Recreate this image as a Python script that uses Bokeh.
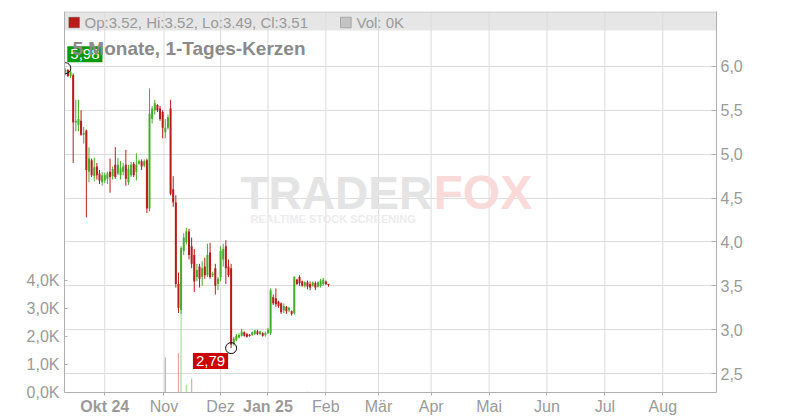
from bokeh.plotting import figure
from bokeh.models import (Range1d, LinearAxis, FixedTicker, CustomJSTickFormatter,
                          Label, BoxAnnotation, ColumnDataSource, Span)
from bokeh.embed import file_html
from bokeh.resources import INLINE

# ---------------- data (trading-day index, prices in EUR, volume in thousands) -------------
day = list(range(101))
open_ = [5.93, 5.96, 5.89, 5.90, 5.36, 5.33, 5.38, 5.22, 5.27, 4.80,
         4.93, 4.75, 4.86, 4.78, 4.68, 4.70, 4.72, 4.80, 4.75, 4.88,
         4.78, 4.76, 4.80, 4.88, 4.68, 4.76, 4.89, 4.80, 4.89, 4.92,
         4.87, 4.93, 4.38, 5.40, 5.50, 5.56, 5.52, 5.48, 5.25, 5.30,
         5.52, 4.60, 4.45, 3.52, 3.22, 3.90, 4.00, 4.12, 3.95, 3.85,
         3.60, 3.72, 3.60, 3.72, 3.62, 3.88, 3.62, 3.70, 3.52, 3.60,
         3.80, 3.95, 3.72, 3.70, 2.84, 2.88, 2.91, 2.93, 2.97, 2.95,
         2.94, 2.94, 2.95, 2.98, 2.95, 2.96, 2.94, 2.96, 2.96, 3.37,
         3.36, 3.32, 3.30, 3.22, 3.26, 3.22, 3.21, 3.19, 3.57, 3.60,
         3.55, 3.50, 3.54, 3.52, 3.50, 3.53, 3.49, 3.50, 3.52, 3.55,
         3.52]
high = [5.98, 5.97, 5.96, 5.92, 5.62, 5.62, 5.50, 5.31, 5.28, 5.08,
        4.95, 4.96, 4.90, 4.82, 4.80, 4.79, 4.80, 4.95, 4.86, 5.08,
        4.96, 4.92, 4.90, 5.05, 4.88, 4.91, 4.91, 5.01, 4.94, 4.94,
        4.94, 4.95, 5.75, 5.55, 5.62, 5.57, 5.55, 5.50, 5.40, 5.45,
        5.62, 4.75, 4.53, 3.65, 3.95, 4.10, 4.16, 4.15, 4.05, 3.92,
        3.75, 3.75, 3.78, 3.82, 3.98, 3.99, 3.66, 3.75, 3.60, 3.95,
        3.98, 4.02, 3.80, 3.75, 2.92, 2.95, 2.96, 3.01, 2.98, 2.96,
        2.95, 2.98, 3.00, 3.00, 2.99, 2.97, 2.98, 3.02, 3.47, 3.40,
        3.47, 3.33, 3.31, 3.30, 3.27, 3.26, 3.22, 3.61, 3.58, 3.62,
        3.56, 3.55, 3.56, 3.55, 3.55, 3.55, 3.55, 3.58, 3.59, 3.56,
        3.52]
low = [5.90, 5.88, 5.87, 4.90, 5.26, 5.26, 5.21, 5.12, 4.28, 4.68,
       4.74, 4.69, 4.71, 4.66, 4.64, 4.67, 4.66, 4.56, 4.71, 4.72,
       4.76, 4.71, 4.76, 4.64, 4.65, 4.74, 4.74, 4.70, 4.88, 4.82,
       4.85, 4.33, 4.35, 5.35, 5.45, 5.48, 5.38, 5.18, 5.18, 5.28,
       4.53, 4.40, 3.48, 3.19, 3.18, 3.85, 3.97, 3.80, 3.70, 3.43,
       3.55, 3.48, 3.50, 3.58, 3.60, 3.58, 3.60, 3.40, 3.45, 3.55,
       3.72, 3.52, 3.60, 2.79, 2.82, 2.87, 2.90, 2.92, 2.92, 2.91,
       2.92, 2.93, 2.94, 2.94, 2.94, 2.92, 2.92, 2.95, 2.94, 3.28,
       3.26, 3.25, 3.18, 3.19, 3.18, 3.20, 3.16, 3.17, 3.51, 3.50,
       3.49, 3.48, 3.46, 3.45, 3.49, 3.45, 3.48, 3.48, 3.50, 3.51,
       3.49]
close = [5.96, 5.89, 5.94, 5.36, 5.38, 5.40, 5.22, 5.24, 4.82, 4.95,
         4.76, 4.85, 4.76, 4.70, 4.76, 4.76, 4.78, 4.74, 4.83, 4.74,
         4.88, 4.84, 4.86, 4.72, 4.83, 4.88, 4.76, 4.88, 4.92, 4.86,
         4.92, 4.38, 5.46, 5.52, 5.58, 5.50, 5.40, 5.30, 5.30, 5.42,
         4.55, 4.45, 3.52, 3.25, 3.93, 4.05, 4.12, 3.85, 3.75, 3.55,
         3.68, 3.58, 3.70, 3.62, 3.85, 3.60, 3.64, 3.50, 3.58, 3.90,
         3.92, 3.70, 3.62, 2.83, 2.90, 2.93, 2.94, 2.98, 2.93, 2.92,
         2.93, 2.97, 2.99, 2.95, 2.98, 2.93, 2.96, 3.00, 3.45, 3.30,
         3.29, 3.27, 3.20, 3.27, 3.21, 3.25, 3.18, 3.60, 3.52, 3.53,
         3.50, 3.54, 3.49, 3.48, 3.54, 3.48, 3.54, 3.56, 3.57, 3.52,
         3.51]
vol_day = [38, 43, 44, 46, 48, 92]
vol_k = [1.25, 1.40, 2.90, 0.28, 0.50, 0.03]

month_tick = [15, 37.5, 59, 77, 99, 119, 139, 161, 183, 205, 227]
month_label = ["Okt 24", "Nov", "Dez", "Jan 25", "Feb", "Mär", "Apr", "Mai", "Jun", "Jul", "Aug"]
price_tick = [2.5, 3.0, 3.5, 4.0, 4.5, 5.0, 5.5, 6.0]
vol_tick = [0, 1, 2, 3, 4]
title_text = "5 Monate, 1-Tages-Kerzen"

# ---------------- styling constants ----------------
FONT = "Liberation Sans"
RED, GREEN = "#b91b1b", "#46ad2c"
VRED, VGREEN, VGRAY = "#f0a3a3", "#a6dd9c", "#b4b4b4"
AX = "#b0b0b0"
GRID = "#dcdcdc"
TXT = "#9a9a9a"

X0, X1 = -0.3, 247.4          # visible trading-day window
Y0, Y1 = 2.284, 6.626         # price at the x-axis line / at the top of the plot
VMAX = 13.6                   # volume (K) at the top of the plot
FL, FT, FW, FH = 64, 11, 652, 381   # plot box in page pixels (axis line at FT+FH)
PAGE_H = 420


def dx(px):
    return X0 + (px - FL) / FW * (X1 - X0)


def dy(py):
    return Y1 - (py - FT) / FH * (Y1 - Y0)


# the frame reaches the bottom of the canvas so the month labels (drawn by axes fixed at Y0)
# are not clipped
YB = dy(PAGE_H)
VB = -(PAGE_H - FT - FH) / FH * VMAX

p = figure(width=800, height=PAGE_H, output_backend="svg", toolbar_location=None,
           x_range=Range1d(X0, X1), y_range=Range1d(YB, Y1), y_axis_location="right",
           min_border_left=FL, min_border_right=800 - FL - FW, min_border_top=FT,
           min_border_bottom=0)
p.extra_y_ranges = {"vol": Range1d(VB, VMAX)}
p.background_fill_color = "white"
p.border_fill_color = "white"
p.outline_line_color = None

# header band
p.add_layout(BoxAnnotation(left=X0, right=X1, top=Y1, bottom=dy(30), fill_color="#e6e6e6",
                           fill_alpha=1, line_color=None, level="image"))
p.add_layout(Span(location=dy(11.5), dimension="width", line_color="#c8c8c8", line_width=1))

# grids: horizontal from the axis ticker; vertical month lines stop at the axis line
p.xgrid.visible = False
p.ygrid.ticker = FixedTicker(ticks=price_tick)
p.ygrid.grid_line_color = GRID
p.segment(x0=month_tick, y0=[Y0] * len(month_tick), x1=month_tick, y1=[Y1] * len(month_tick),
          line_color=GRID, line_width=1)

is_year = [lab[-1].isdigit() for lab in month_label]

# bottom axis: regular month names
xa = p.xaxis[0]
xa.fixed_location = Y0
xa.ticker = FixedTicker(ticks=month_tick)
xa.major_label_overrides = {t: ("" if y else lab) for t, lab, y in zip(month_tick, month_label, is_year)}
xa.major_label_text_font = FONT
xa.major_label_text_font_size = "16px"
xa.major_label_text_color = TXT
xa.major_label_standoff = 2
xa.axis_line_color = AX
xa.major_tick_line_color = AX
xa.major_tick_in = 0
xa.major_tick_out = 3
xa.minor_tick_line_color = None

# second bottom axis at the same place: bold year labels
year_ticks = [t for t, y in zip(month_tick, is_year) if y]
xb = LinearAxis(ticker=FixedTicker(ticks=year_ticks), fixed_location=Y0,
                major_label_overrides={t: lab for t, lab, y in zip(month_tick, month_label, is_year) if y})
xb.major_label_text_font = FONT
xb.major_label_text_font_size = "16px"
xb.major_label_text_font_style = "bold"
xb.major_label_text_color = TXT
xb.major_label_standoff = 2
xb.axis_line_color = None
xb.major_tick_line_color = None
xb.major_tick_in = 0
xb.major_tick_out = 3
xb.minor_tick_line_color = None
p.add_layout(xb, "below")

# right price axis
ya = p.yaxis[0]
ya.bounds = (Y0, Y1)
ya.ticker = FixedTicker(ticks=price_tick)
ya.formatter = CustomJSTickFormatter(code="return tick.toFixed(1).replace('.', ',');")
ya.axis_line_color = AX
ya.major_tick_line_color = AX
ya.major_tick_in = 5
ya.major_tick_out = 0
ya.minor_tick_line_color = None
ya.major_label_standoff = 4
ya.major_label_text_font = FONT
ya.major_label_text_font_size = "16px"
ya.major_label_text_color = TXT

# left volume axis
va = LinearAxis(y_range_name="vol", ticker=FixedTicker(ticks=vol_tick), bounds=(0, VMAX),
                formatter=CustomJSTickFormatter(code="return tick.toFixed(1).replace('.', ',') + 'K';"))
va.axis_line_color = AX
va.major_tick_line_color = AX
va.major_tick_in = 3
va.major_tick_out = 0
va.minor_tick_line_color = None
va.major_label_standoff = 5
va.major_label_text_font = FONT
va.major_label_text_font_size = "16px"
va.major_label_text_color = TXT
p.add_layout(va, "left")

# watermark
p.add_layout(Label(x=dx(240), y=dy(192), text="TRADER", text_font=FONT, text_font_size="46px",
                   text_font_style="bold", text_color="#e4e4e4", text_baseline="middle"))
p.add_layout(Label(x=dx(433), y=dy(192), text="FOX", text_font=FONT, text_font_size="48px",
                   text_font_style="bold", text_color="#f9dada", text_baseline="middle"))
p.add_layout(Label(x=dx(250), y=dy(218), text="REALTIME STOCK SCREENING", text_font=FONT,
                   text_font_size="11px", text_font_style="bold", text_color="#ececec",
                   text_baseline="middle"))

# volume bars
vcol = []
for d in vol_day:
    prev = close[d - 1] if d > 0 else close[d]
    vcol.append(VGREEN if close[d] > prev else (VRED if close[d] < prev else VGRAY))
p.vbar(x=vol_day, width=0.45, top=vol_k, bottom=0, y_range_name="vol",
       fill_color=vcol, line_color=None)

# candles
tops, bots, cols = [], [], []
for o, c in zip(open_, close):
    t, b = max(o, c), min(o, c)
    if t - b < 0.012:
        m = (t + b) / 2
        t, b = m + 0.006, m - 0.006
    tops.append(t)
    bots.append(b)
    cols.append(GREEN if c >= o else RED)
src = ColumnDataSource(dict(day=day, high=high, low=low, top=tops, bottom=bots, color=cols))
p.segment(x0="day", y0="low", x1="day", y1="high", line_color="color", line_width=1, source=src)
p.vbar(x="day", width=0.76, top="top", bottom="bottom", fill_color="color", line_color=None,
       source=src)

# extreme markers
hi_i = max(day, key=lambda i: high[i])
lo_i = min(day, key=lambda i: low[i])
p.scatter(x=[hi_i, lo_i], y=[high[hi_i], low[lo_i]], marker="circle", size=11,
          fill_alpha=0, line_color="#111111", line_width=1)
p.add_layout(Label(x=hi_i, y=high[hi_i], x_offset=2, y_offset=6,
                   text=f"{high[hi_i]:.2f}".replace(".", ","), text_font=FONT,
                   text_font_size="15px", text_color="white", text_align="left",
                   text_baseline="bottom", background_fill_color="#0a990a",
                   padding=(3, 3, 3, 3)))
p.add_layout(Label(x=lo_i, y=low[lo_i], x_offset=-3, y_offset=-5,
                   text=f"{low[lo_i]:.2f}".replace(".", ","), text_font=FONT,
                   text_font_size="15px", text_color="white", text_align="right",
                   text_baseline="top", background_fill_color="#cc0000",
                   padding=(3, 3, 3, 3)))

# title
p.add_layout(Label(x=dx(72), y=dy(47.5), text=title_text, text_font=FONT, text_font_size="19px",
                   text_font_style="bold", text_color="#8a8a8a", text_baseline="middle"))

# header legend
last = len(day) - 1
p.add_layout(BoxAnnotation(left=dx(68.3), right=dx(79), top=dy(16.7), bottom=dy(27.3),
                           fill_color=RED if close[last] < open_[last] else GREEN, fill_alpha=1,
                           line_color="#444444", line_width=1))
p.add_layout(Label(x=dx(84), y=dy(21.5),
                   text=f"Op:{open_[last]:.2f}, Hi:{high[last]:.2f}, Lo:{low[last]:.2f}, Cl:{close[last]:.2f}",
                   text_font=FONT, text_font_size="15px", text_color=TXT, text_baseline="middle"))
p.add_layout(BoxAnnotation(left=dx(340), right=dx(350.7), top=dy(16.7), bottom=dy(27.3),
                           fill_color="#c4c4c4", fill_alpha=1, line_color="#444444", line_width=1))
last_vol = 0
p.add_layout(Label(x=dx(356), y=dy(21.5), text=f"Vol: {last_vol}K", text_font=FONT,
                   text_font_size="15px", text_color=TXT, text_baseline="middle"))

open("out.html", "w").write(file_html(p, INLINE))
